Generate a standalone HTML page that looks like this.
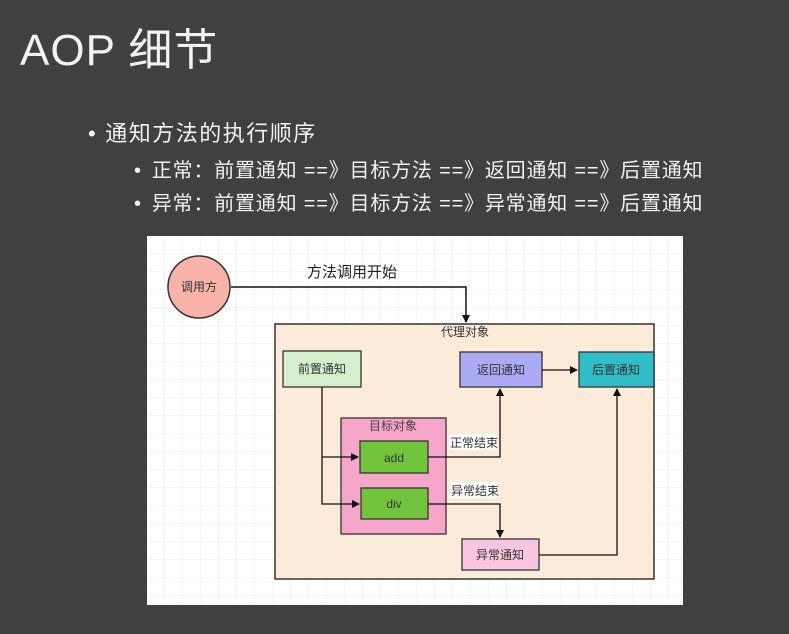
<!DOCTYPE html>
<html><head><meta charset="utf-8"><style>
html,body{margin:0;padding:0;}
body{width:789px;height:634px;background:#404040;position:relative;overflow:hidden;font-family:"Liberation Sans","Noto Sans CJK SC",sans-serif;color:#f2f2f2;}
.t{position:absolute;white-space:nowrap;}
</style></head><body>
<div class="t" style="left:20px;top:14px;font-size:44px;letter-spacing:1px;">AOP 细节</div>
<div class="t" style="left:88px;top:116px;font-size:22px;letter-spacing:1.5px;"><span style="margin-right:8px">•</span>通知方法的执行顺序</div>
<div class="t" style="left:134px;top:154px;font-size:20px;letter-spacing:0.8px;"><span style="margin-right:10px">•</span>正常：前置通知 ==》目标方法 ==》返回通知 ==》后置通知</div>
<div class="t" style="left:134px;top:187px;font-size:20px;letter-spacing:0.8px;"><span style="margin-right:10px">•</span>异常：前置通知 ==》目标方法 ==》异常通知 ==》后置通知</div>
<svg style="position:absolute;left:0;top:0" width="789" height="634" font-family="Liberation Sans, Noto Sans CJK SC, sans-serif">
<defs>
<pattern id="g" width="18" height="18" patternUnits="userSpaceOnUse" x="147" y="236"><path d="M18 0V18H0" fill="none" stroke="#ececec" stroke-width="1"/></pattern>
<marker id="a" markerWidth="8" markerHeight="8" refX="7" refY="4" orient="auto" markerUnits="userSpaceOnUse"><path d="M0,0L8,4L0,8z" fill="#111"/></marker>
</defs>
<rect x="147" y="236" width="536" height="369" fill="#fff"/>
<rect x="147" y="236" width="536" height="369" fill="url(#g)"/>
<circle cx="199" cy="287" r="31" fill="#f8b4a8" stroke="#333" stroke-width="1.5"/>
<text x="199" y="291" font-size="12" text-anchor="middle" fill="#333">调用方</text>
<text x="307" y="277" font-size="15" fill="#222">方法调用开始</text>
<polyline points="231,287 466,287 466,322" fill="none" stroke="#111" stroke-width="1.5" marker-end="url(#a)"/>
<rect x="275" y="324" width="379" height="255" fill="#fdebd9" stroke="#333" stroke-width="1.5"/>
<text x="465" y="336" font-size="12" text-anchor="middle" fill="#333">代理对象</text>
<rect x="283" y="351" width="78" height="36" fill="#d5eecb" stroke="#333" stroke-width="1.3"/>
<text x="322" y="373" font-size="12" text-anchor="middle" fill="#333">前置通知</text>
<rect x="460" y="352" width="82" height="35" fill="#aaaaf5" stroke="#333" stroke-width="1.3"/>
<text x="501" y="374" font-size="12" text-anchor="middle" fill="#333">返回通知</text>
<rect x="579" y="352" width="75" height="35" fill="#2fbdc8" stroke="#333" stroke-width="1.3"/>
<text x="616" y="374" font-size="12" text-anchor="middle" fill="#333">后置通知</text>
<rect x="341" y="418" width="105" height="116" fill="#f6a6c9" stroke="#333" stroke-width="1.3"/>
<text x="393" y="430" font-size="12" text-anchor="middle" fill="#444">目标对象</text>
<rect x="360" y="441" width="68" height="32" fill="#72c43c" stroke="#333" stroke-width="1.3"/>
<text x="394" y="462" font-size="12" text-anchor="middle" fill="#333">add</text>
<rect x="361" y="488" width="67" height="31" fill="#72c43c" stroke="#333" stroke-width="1.3"/>
<text x="394" y="508" font-size="12" text-anchor="middle" fill="#333">div</text>
<rect x="462" y="539" width="77" height="31" fill="#f9c6e2" stroke="#333" stroke-width="1.3"/>
<text x="500" y="559" font-size="12" text-anchor="middle" fill="#333">异常通知</text>
<g fill="none" stroke="#111" stroke-width="1.3">
<polyline points="322,387 322,457 358,457" marker-end="url(#a)"/>
<polyline points="322,457 322,504 359,504" marker-end="url(#a)"/>
<polyline points="428,457 500,457 500,389" marker-end="url(#a)"/>
<polyline points="428,504 500,504 500,537" marker-end="url(#a)"/>
<polyline points="539,555 617,555 617,389" marker-end="url(#a)"/>
<polyline points="542,370 577,370" marker-end="url(#a)"/>
</g>
<rect x="449" y="434" width="48" height="16" fill="#fff"/>
<text x="450" y="447" font-size="12" fill="#333">正常结束</text>
<rect x="450" y="482" width="48" height="16" fill="#fff"/>
<text x="451" y="495" font-size="12" fill="#333">异常结束</text>
</svg>
</body></html>
